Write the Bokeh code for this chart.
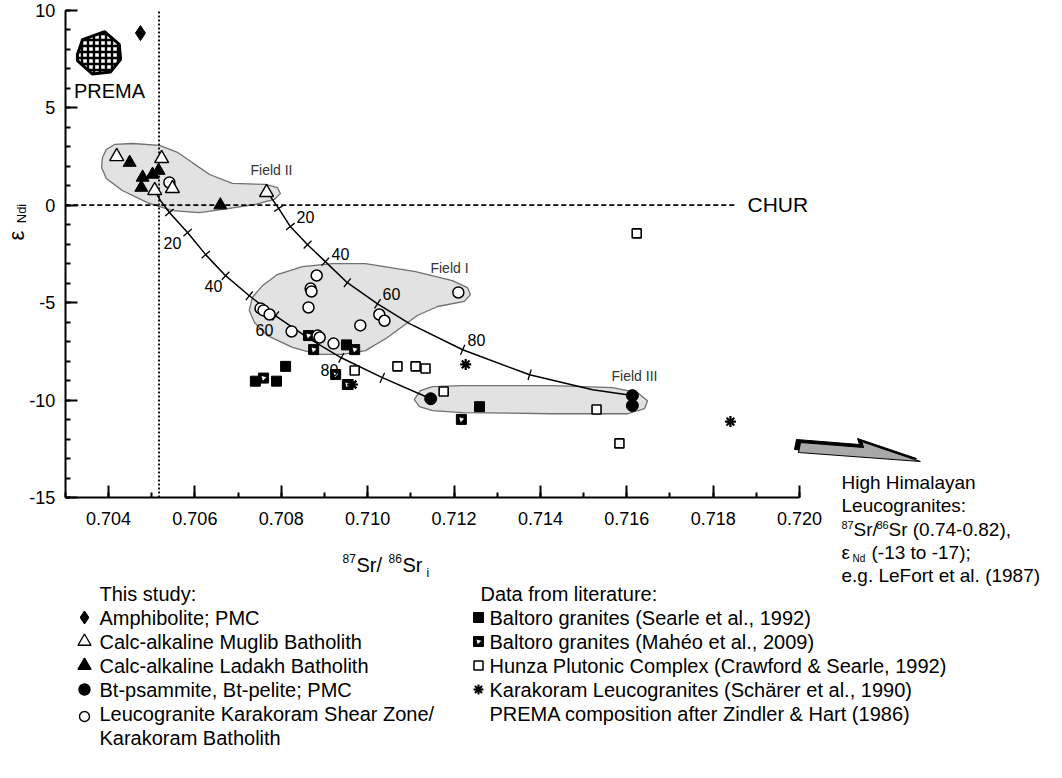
import math
from bokeh.plotting import figure
from bokeh.models import LinearAxis, FixedTicker, NumeralTickFormatter, Range1d
from bokeh.core.properties import value
from bokeh.embed import file_html
from bokeh.resources import INLINE

# ---------------- data ----------------
amph_x = [0.70474]; amph_y = [8.82]
muglib_x = [0.70419, 0.70523, 0.70507, 0.70548, 0.70766]
muglib_y = [2.49, 2.39, 0.75, 0.85, 0.65]
ladakh_x = [0.70449, 0.70479, 0.70476, 0.70502, 0.70516, 0.70659]
ladakh_y = [2.18, 1.42, 0.90, 1.57, 1.77, 0.0]
pelite_x = [0.71146, 0.71613, 0.71613]
pelite_y = [-9.93, -9.77, -10.28]
leuco_x = [0.70541, 0.70882, 0.70868, 0.70870, 0.70863, 0.70752, 0.70759, 0.70773,
           0.70824, 0.70884, 0.70889, 0.70921, 0.70983, 0.71027, 0.71039, 0.71210]
leuco_y = [1.16, -3.61, -4.28, -4.43, -5.25, -5.30, -5.40, -5.61,
           -6.48, -6.69, -6.79, -7.10, -6.17, -5.61, -5.93, -4.48]
searle_x = [0.70810, 0.70740, 0.70789, 0.70951, 0.71259]
searle_y = [-8.27, -9.03, -9.03, -7.17, -10.34]
maheo_x = [0.70759, 0.70863, 0.70875, 0.70970, 0.70926, 0.70953, 0.71217]
maheo_y = [-8.87, -6.69, -7.41, -7.41, -8.69, -9.20, -10.99]
hunza_x = [0.70970, 0.71069, 0.71111, 0.71134, 0.71176, 0.71530, 0.71583, 0.71623]
hunza_y = [-8.48, -8.27, -8.27, -8.38, -9.56, -10.48, -12.22, -1.45]
scharer_x = [0.70965, 0.71227, 0.71840]
scharer_y = [-9.20, -8.17, -11.10]

prema_x = [0.70340, 0.70391, 0.70425, 0.70428, 0.70405, 0.70363, 0.70328, 0.70328]
prema_y = [8.49, 8.90, 8.24, 7.47, 6.83, 6.72, 7.41, 7.72]

field2_x = [0.70386, 0.70395, 0.70414, 0.70456, 0.70518, 0.70560, 0.70594, 0.70634, 0.70687,
            0.70764, 0.70791, 0.70798, 0.70784, 0.70738, 0.70676, 0.70611, 0.70548, 0.70490,
            0.70432, 0.70395, 0.70384]
field2_y = [2.44, 2.85, 3.11, 3.16, 3.06, 2.70, 2.18, 1.57, 1.11, 1.06, 0.90, 0.59, 0.29, 0.03,
            -0.18, -0.39, -0.28, 0.13, 0.75, 1.36, 1.93]
field1_x = [0.70726, 0.70733, 0.70757, 0.70791, 0.70849, 0.70919, 0.70995, 0.71111, 0.71196,
            0.71231, 0.71238, 0.71224, 0.71162, 0.71115, 0.71046, 0.70995, 0.70942, 0.70884,
            0.70826, 0.70768, 0.70738]
field1_y = [-5.40, -4.74, -4.12, -3.56, -3.15, -3.00, -3.00, -3.41, -3.87, -4.23, -4.59, -4.94,
            -5.20, -5.66, -6.79, -7.46, -7.66, -7.66, -7.30, -6.69, -6.02]
field3_x = [0.71108, 0.71122, 0.71150, 0.71220, 0.71428, 0.71567, 0.71625, 0.71648, 0.71641,
            0.71602, 0.71428, 0.71220, 0.71150, 0.71120]
field3_y = [-9.97, -9.51, -9.31, -9.26, -9.26, -9.36, -9.62, -10.03, -10.44, -10.70, -10.70,
            -10.64, -10.54, -10.33]

upper_x = [0.70768, 0.70794, 0.70821, 0.70861, 0.70902, 0.70953, 0.71023, 0.71097, 0.71220,
           0.71375, 0.71521, 0.71613]
upper_y = [0.65, -0.17, -1.10, -2.03, -2.90, -3.98, -5.06, -6.08, -7.42, -8.70, -9.47, -9.77]
upper_ticks = [1, 2, 3, 4, 5, 6, 8, 9]
lower_x = [0.70507, 0.70520, 0.70541, 0.70583, 0.70625, 0.70671, 0.70726, 0.70787, 0.70861,
           0.70939, 0.71034, 0.71146]
lower_y = [0.75, 0.24, -0.38, -1.41, -2.54, -3.62, -4.65, -5.68, -6.80, -7.83, -8.85, -9.93]
lower_ticks = [2, 3, 4, 5, 6, 7, 9, 10]
mix_labels = ["20", "40", "60", "80"]

chur_y = 0.0
chur_x_end = 0.71856
sr_bse = 0.70517

x_ticks = [0.704, 0.706, 0.708, 0.710, 0.712, 0.714, 0.716, 0.718, 0.720]
x_minor = [round(0.703 + 0.001 * i, 3) for i in range(18)]
y_ticks = [-15, -10, -5, 0, 5, 10]
y_minor = list(range(-15, 11))

legend_left = ["Amphibolite; PMC", "Calc-alkaline Muglib Batholith", "Calc-alkaline Ladakh Batholith",
               "Bt-psammite, Bt-pelite; PMC", "Leucogranite Karakoram Shear Zone/", "Karakoram Batholith"]
legend_right = ["Baltoro granites (Searle et al., 1992)", "Baltoro granites (Mahéo et al., 2009)",
                "Hunza Plutonic Complex (Crawford & Searle, 1992)",
                "Karakoram Leucogranites (Schärer et al., 1990)",
                "PREMA composition after Zindler & Hart (1986)"]

# ---------------- layout helpers (reference pixel -> data) ----------------
W, H = 1046, 762
PX0, X0, PXS = 116.0, 0.704, 43190.0
PY0, YS = 212.6, 19.5
def sx(px): return X0 + (px - PX0) / PXS
def sy(py): return (PY0 - py) / YS

FONT = value("Liberation Sans")

p = figure(width=W, height=H, x_range=Range1d(sx(8), sx(8 + W)), y_range=Range1d(sy(8 + H), sy(8)),
           output_backend="svg", toolbar_location=None, min_border=0,
           x_axis_location=None, y_axis_location=None)
p.outline_line_color = None
p.grid.visible = False
p.background_fill_color = "white"
p.border_fill_color = "white"

xa = LinearAxis(fixed_location=-15, bounds=(0.703, 0.720),
                ticker=FixedTicker(ticks=x_ticks, minor_ticks=x_minor),
                formatter=NumeralTickFormatter(format="0.000"))
ya = LinearAxis(fixed_location=0.703, bounds=(-15, 10),
                ticker=FixedTicker(ticks=y_ticks, minor_ticks=y_minor),
                formatter=NumeralTickFormatter(format="0"))
for ax in (xa, ya):
    ax.axis_line_width = 2
    ax.axis_line_color = "black"
    ax.major_tick_in = 12
    ax.major_tick_out = 0
    ax.minor_tick_in = 5
    ax.minor_tick_out = 0
    ax.major_tick_line_width = 2
    ax.minor_tick_line_width = 2
    ax.major_label_text_font = "Liberation Sans"
    ax.major_label_text_font_size = "18px"
    ax.major_label_text_color = "black"
xa.major_label_standoff = 14
ya.major_label_standoff = 10
p.add_layout(xa, "below")
p.add_layout(ya, "left")

# fields
for fx, fy in ((field2_x, field2_y), (field1_x, field1_y), (field3_x, field3_y)):
    p.patch(fx, fy, fill_color="#e2e2e2", line_color="#6f6f6f", line_width=1.3)

# reference lines
p.line([0.703, chur_x_end], [chur_y, chur_y], line_color="black", line_width=1.8, line_dash="5 3")
p.line([sr_bse, sr_bse], [-15, 10], line_color="black", line_width=1.8, line_dash="2 2")

# mixing curves
def tick_angles(cx, cy, idx):
    out = []
    for i in idx:
        dx = (cx[i + 1] - cx[i - 1]) * PXS
        dy = (cy[i + 1] - cy[i - 1]) * YS
        out.append(math.atan2(dy, dx) + math.pi / 2)
    return out
for cx, cy, idx in ((upper_x, upper_y, upper_ticks), (lower_x, lower_y, lower_ticks)):
    p.line(cx, cy, line_color="black", line_width=1.5)
    p.scatter([cx[i] for i in idx], [cy[i] for i in idx], marker="dash", size=11,
              angle=tick_angles(cx, cy, idx), line_color="black", line_width=1.3)

# PREMA
p.patch(prema_x, prema_y, fill_color="white", hatch_pattern="+", hatch_color="black",
        hatch_scale=6, hatch_weight=2.4, line_color="black", line_width=3)

# points
p.scatter(amph_x, amph_y, marker="diamond", size=15, fill_color="black", line_color="black")
p.scatter(hunza_x, hunza_y, marker="square", size=9, fill_color="white", line_color="black", line_width=1.6)
p.scatter(searle_x, searle_y, marker="square", size=10, fill_color="black", line_color="black")
p.scatter(maheo_x, maheo_y, marker="square", size=10, fill_color="black", line_color="black")
p.scatter(maheo_x, maheo_y, marker="triangle", size=5, angle=math.pi / 4, fill_color="white", line_color=None)
p.scatter(scharer_x, scharer_y, marker="asterisk", size=11, line_color="black", line_width=2.2)
p.scatter(leuco_x, leuco_y, marker="circle", size=11, fill_color="white", line_color="black", line_width=1.5)
p.scatter(pelite_x, pelite_y, marker="circle", size=12, fill_color="black", line_color="black")
p.scatter(muglib_x, muglib_y, marker="triangle", size=14, fill_color="white", line_color="black", line_width=1.4)
p.scatter(ladakh_x, ladakh_y, marker="triangle", size=13, fill_color="black", line_color="black")

# texts in plot
def txt(px, py, s, size, align="left", baseline="middle", color="black", angle=0.0):
    p.text([sx(px)], [sy(py)], text=[s], text_font=FONT, text_font_size=value(size),
           text_align=align, text_baseline=baseline, text_color=color, angle=angle)

txt(117, 98, "PREMA", "20px", align="center")
txt(755, 212, "CHUR", "21px")
txt(279, 177, "Field II", "14px", align="center", color="#333333")
txt(457, 275, "Field I", "14px", align="center", color="#333333")
txt(642, 383, "Field III", "14px", align="center", color="#333333")
for s, (px, py) in zip(mix_labels, [(313, 224), (348, 261), (399, 301), (484, 347)]):
    txt(px, py, s, "16px", align="center")
for s, (px, py) in zip(mix_labels, [(180, 250), (221, 293), (272, 337), (337, 377)]):
    txt(px, py, s, "16px", align="center")

# y axis title
txt(24, 243, "ε", "22px", align="center", angle=math.pi / 2)
txt(29, 221, "Ndi", "13px", align="center", angle=math.pi / 2)
# x axis title
txt(350, 566, "87", "12px")
txt(364, 572, "Sr/", "20px")
txt(396, 566, "86", "12px")
txt(410, 572, "Sr", "20px")
txt(434, 580, "i", "12px")

# arrow to High Himalayan field
arr_px = [808, 871, 869, 928, 806]
arr_py = [450, 455, 449, 469, 460]
p.patch([sx(v - 4) for v in arr_px], [sy(v - 3) for v in arr_py], fill_color="black", line_color="black", line_width=1)
p.patch([sx(v) for v in arr_px], [sy(v) for v in arr_py], fill_color="#a8a8a8", line_color="black", line_width=1.2)

HF = "19px"
txt(849, 490, "High Himalayan", HF)
txt(849, 513, "Leucogranites:", HF)
txt(849, 532, "87", "11px")
txt(861, 537, "Sr/", HF)
txt(884, 532, "86", "11px")
txt(896, 537, "Sr (0.74-0.82),", HF)
txt(849, 560, "ε", HF)
txt(860, 566, "Nd", "10px")
txt(879, 560, "(-13 to -17);", HF)
txt(849, 583, "e.g. LeFort et al. (1987)", HF)

# legend
LY = [601, 625, 649, 673, 697, 721, 745]
txt(107, LY[0], "This study:", "20px")
for s, yy in zip(legend_left, LY[1:]):
    txt(107, yy, s, "20px")
lm = [("diamond", 12, "black"), ("triangle", 13, "white"), ("triangle", 13, "black"),
      ("circle", 11, "black"), ("circle", 10, "white")]
for (m, sz, fc), yy in zip(lm, LY[1:6]):
    p.scatter([sx(92)], [sy(yy + (3 if m == "circle" and fc == "white" else 0))], marker=m, size=sz,
              fill_color=fc, line_color="black", line_width=1.4)
txt(488, LY[0], "Data from literature:", "20px")
for s, yy in zip(legend_right, LY[1:6]):
    txt(497, yy, s, "20px")
p.scatter([sx(486)], [sy(LY[1])], marker="square", size=10, fill_color="black", line_color="black")
p.scatter([sx(486)], [sy(LY[2])], marker="square", size=10, fill_color="black", line_color="black")
p.scatter([sx(486)], [sy(LY[2])], marker="triangle", size=5, angle=math.pi / 4, fill_color="white", line_color=None)
p.scatter([sx(486)], [sy(LY[3])], marker="square", size=9, fill_color="white", line_color="black", line_width=1.5)
p.scatter([sx(486)], [sy(LY[4])], marker="asterisk", size=10, line_color="black", line_width=2)

open("out.html", "w").write(file_html(p, INLINE))
